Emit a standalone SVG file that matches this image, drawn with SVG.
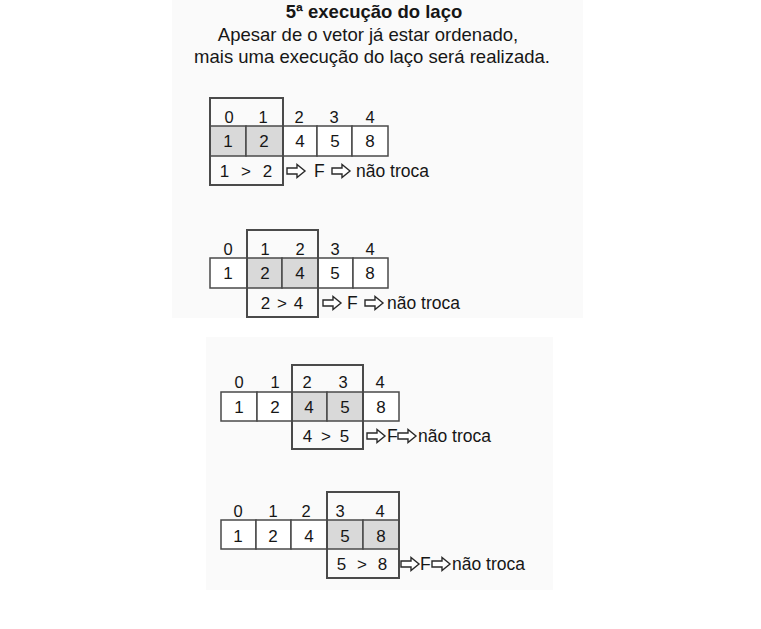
<svg xmlns="http://www.w3.org/2000/svg" xmlns:xlink="http://www.w3.org/1999/xlink" width="761" height="629" viewBox="0 0 761 629">
<style>
  .panel { fill: #fafafa; }
  .cell { fill: #ffffff; stroke: #4a4a4a; stroke-width: 1.5; }
  .hot { fill: #d9d9d9; stroke: #4a4a4a; stroke-width: 1.5; }
  .box { fill: none; stroke: #4a4a4a; stroke-width: 2; }
  .t { font-family: "Liberation Sans", Arial, sans-serif; fill: #161616; }
  .title { font-size: 18.5px; font-weight: bold; text-anchor: middle; }
  .sub { font-size: 18.5px; text-anchor: middle; }
  .idx { font-size: 16.5px; text-anchor: middle; }
  .val { font-size: 17px; text-anchor: middle; }
  .cmp { font-size: 17px; text-anchor: middle; }
  .lbl { font-size: 17.5px; }
  .arr { fill: #ffffff; stroke: #2a2a2a; stroke-width: 1.4; stroke-linejoin: miter; }
</style>
<defs>
  <path id="harrow" d="M0,-3 L10,-3 L10,-6.5 L18,0 L10,6.5 L10,3 L0,3 Z"/>
</defs>
<rect width="761" height="629" fill="#ffffff"/>
<rect class="panel" x="172" y="0" width="411" height="318"/>
<rect class="panel" x="206" y="337" width="347" height="253"/>

<g id="header">
  <text class="t title" x="374" y="18">5ª execução do laço</text>
  <text class="t sub" x="368" y="41">Apesar de o vetor já estar ordenado,</text>
  <text class="t sub" x="372" y="63">mais uma execução do laço será realizada.</text>
</g>

<g id="frame1">
  <rect class="hot" x="210" y="126" width="36" height="30"/>
  <rect class="hot" x="246" y="126" width="37" height="30"/>
  <rect class="cell" x="283" y="126" width="34" height="30"/>
  <rect class="cell" x="317" y="126" width="35" height="30"/>
  <rect class="cell" x="352" y="126" width="36" height="30"/>
  <rect class="box" x="210" y="98" width="73" height="87"/>
  <text class="t idx" x="229" y="123">0</text>
  <text class="t idx" x="263" y="123">1</text>
  <text class="t idx" x="299" y="123">2</text>
  <text class="t idx" x="334" y="123">3</text>
  <text class="t idx" x="370" y="123">4</text>
  <text class="t val" x="228" y="147">1</text>
  <text class="t val" x="264" y="147">2</text>
  <text class="t val" x="300" y="147">4</text>
  <text class="t val" x="335" y="147">5</text>
  <text class="t val" x="370" y="147">8</text>
  <text class="t cmp" x="246" y="177" word-spacing="7">1 &gt; 2</text>
  <text class="t lbl" x="314" y="177">F</text>
  <text class="t lbl" x="356" y="177">não troca</text>
</g>

<g id="frame2">
  <rect class="cell" x="210" y="258" width="37" height="30"/>
  <rect class="hot" x="247" y="258" width="35" height="30"/>
  <rect class="hot" x="282" y="258" width="36" height="30"/>
  <rect class="cell" x="318" y="258" width="35" height="30"/>
  <rect class="cell" x="353" y="258" width="35" height="30"/>
  <rect class="box" x="247" y="230" width="71" height="87"/>
  <text class="t idx" x="228" y="255">0</text>
  <text class="t idx" x="265" y="255">1</text>
  <text class="t idx" x="300" y="255">2</text>
  <text class="t idx" x="335" y="255">3</text>
  <text class="t idx" x="370" y="255">4</text>
  <text class="t val" x="228" y="279">1</text>
  <text class="t val" x="265" y="279">2</text>
  <text class="t val" x="300" y="279">4</text>
  <text class="t val" x="335" y="279">5</text>
  <text class="t val" x="370" y="279">8</text>
  <text class="t cmp" x="282" y="309" word-spacing="2">2 &gt; 4</text>
  <text class="t lbl" x="347" y="309">F</text>
  <text class="t lbl" x="387" y="309">não troca</text>
</g>

<g id="frame3">
  <rect class="cell" x="221" y="392" width="36" height="29"/>
  <rect class="cell" x="257" y="392" width="35" height="29"/>
  <rect class="hot" x="292" y="392" width="35" height="29"/>
  <rect class="hot" x="327" y="392" width="36" height="29"/>
  <rect class="cell" x="363" y="392" width="36" height="29"/>
  <rect class="box" x="292" y="365" width="71" height="84"/>
  <text class="t idx" x="239" y="388">0</text>
  <text class="t idx" x="275" y="388">1</text>
  <text class="t idx" x="307" y="388">2</text>
  <text class="t idx" x="343" y="388">3</text>
  <text class="t idx" x="380" y="388">4</text>
  <text class="t val" x="239" y="413">1</text>
  <text class="t val" x="275" y="413">2</text>
  <text class="t val" x="309" y="413">4</text>
  <text class="t val" x="345" y="413">5</text>
  <text class="t val" x="381" y="413">8</text>
  <text class="t cmp" x="326" y="442" word-spacing="4">4 &gt; 5</text>
  <text class="t lbl" x="387" y="442">F</text>
  <text class="t lbl" x="418" y="442">não troca</text>
</g>

<g id="frame4">
  <rect class="cell" x="221" y="520" width="35" height="29"/>
  <rect class="cell" x="256" y="520" width="35" height="29"/>
  <rect class="cell" x="291" y="520" width="36" height="29"/>
  <rect class="hot" x="327" y="520" width="36" height="29"/>
  <rect class="hot" x="363" y="520" width="36" height="29"/>
  <rect class="box" x="327" y="492" width="72" height="86"/>
  <text class="t idx" x="238" y="517">0</text>
  <text class="t idx" x="273" y="517">1</text>
  <text class="t idx" x="306" y="517">2</text>
  <text class="t idx" x="340" y="517">3</text>
  <text class="t idx" x="380" y="517">4</text>
  <text class="t val" x="238" y="542">1</text>
  <text class="t val" x="273" y="542">2</text>
  <text class="t val" x="309" y="542">4</text>
  <text class="t val" x="345" y="542">5</text>
  <text class="t val" x="381" y="542">8</text>
  <text class="t cmp" x="362" y="570" word-spacing="6">5 &gt; 8</text>
  <text class="t lbl" x="420" y="570">F</text>
  <text class="t lbl" x="452" y="570">não troca</text>
</g>

<g id="connectors">
  <use xlink:href="#harrow" class="arr" transform="translate(287,171)"/>
  <use xlink:href="#harrow" class="arr" transform="translate(332,171)"/>
  <use xlink:href="#harrow" class="arr" transform="translate(323,303)"/>
  <use xlink:href="#harrow" class="arr" transform="translate(365,303)"/>
  <use xlink:href="#harrow" class="arr" transform="translate(367,436)"/>
  <use xlink:href="#harrow" class="arr" transform="translate(398,436)"/>
  <use xlink:href="#harrow" class="arr" transform="translate(401,564)"/>
  <use xlink:href="#harrow" class="arr" transform="translate(432,564)"/>
</g>
</svg>
